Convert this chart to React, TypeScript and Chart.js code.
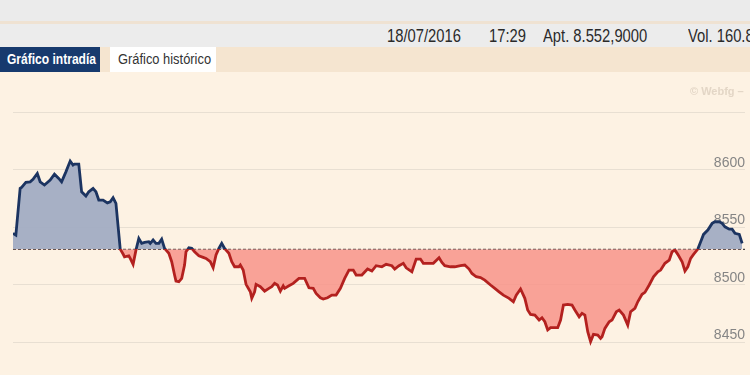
import React, { useEffect, useRef } from "react";
import { Chart, registerables } from "chart.js";

Chart.register(...registerables);

// minutes after 09:00
const minutes = [
  0, 2, 5, 6, 9, 12, 14, 17, 19, 22, 26, 29, 32, 34, 37, 40, 42, 43, 46, 48,
  51, 53, 56, 58, 60, 63, 66, 68, 70, 72, 75, 77, 78, 81, 82, 84, 86, 88, 90, 92,
  95, 96, 98, 100, 102, 104, 106, 109, 111, 113, 114, 116, 118, 120, 121, 123, 125, 127, 130, 133,
  135, 138, 140, 142, 144, 146, 148, 151, 153, 155, 158, 159, 161, 163, 166, 167, 169, 170, 173, 176,
  179, 181, 183, 185, 187, 189, 190, 193, 196, 200, 202, 204, 207, 210, 212, 215, 217, 220, 223, 226,
  229, 232, 235, 238, 240, 244, 248, 251, 254, 258, 261, 265, 267, 270, 273, 275, 279, 282, 285, 287,
  291, 294, 298, 300, 302, 306, 309, 313, 316, 319, 321, 324, 327, 330, 334, 337, 340, 343, 347, 350,
  352, 355, 358, 360, 362, 365, 368, 370, 372, 374, 376, 379, 381, 383, 385, 388, 391, 393, 396, 398,
  400, 402, 404, 406, 409, 411, 412, 414, 417, 419, 422, 424, 427, 430, 432, 435, 437, 440, 442, 445,
  448, 451, 453, 456, 459, 461, 463, 465, 468, 470, 472, 474, 476, 479, 481, 483, 486, 489, 491, 494,
  496, 498, 501, 503, 505, 508, 510,
];

const prices = [
  8544.7, 8543.2, 8583.9, 8584.8, 8589.1, 8589.6, 8591.7, 8596.9, 8589.6, 8586.8, 8591.1, 8596.3, 8592.6, 8589.6, 8598.3, 8607.7, 8604.2, 8605.0, 8605.0, 8580.9,
  8577.2, 8580.9, 8583.9, 8580.9, 8573.7, 8573.7, 8571.3, 8572.2, 8575.7, 8570.8, 8531.0, 8526.7, 8524.3, 8525.2, 8522.9, 8517.7, 8530.1, 8540.3, 8536.0, 8536.8,
  8537.4, 8536.0, 8538.9, 8536.0, 8536.0, 8539.7, 8531.6, 8527.3, 8520.0, 8508.4, 8503.1, 8502.5, 8505.5, 8517.1, 8528.7, 8532.1, 8531.6, 8528.7, 8525.2, 8523.8,
  8522.9, 8520.0, 8514.7, 8525.8, 8531.6, 8536.0, 8531.6, 8527.3, 8520.0, 8515.6, 8515.6, 8517.1, 8512.7, 8500.3, 8493.8, 8488.1, 8493.8, 8500.3, 8498.2, 8494.4,
  8496.8, 8498.2, 8501.1, 8499.7, 8494.4, 8499.0, 8496.8, 8499.0, 8501.1, 8505.5, 8505.5, 8505.5, 8497.3, 8496.8, 8492.4, 8488.6, 8487.5, 8488.6, 8490.9, 8490.9,
  8496.8, 8505.5, 8512.7, 8512.7, 8508.4, 8508.4, 8513.6, 8511.9, 8516.5, 8515.6, 8517.7, 8516.5, 8513.6, 8516.5, 8518.6, 8514.7, 8511.2, 8522.3, 8522.3, 8518.6,
  8518.6, 8518.6, 8523.4, 8519.4, 8516.5, 8515.6, 8515.6, 8516.5, 8517.1, 8513.6, 8509.8, 8506.9, 8506.2, 8504.0, 8499.7, 8496.8, 8493.8, 8490.9, 8488.1, 8485.1,
  8490.9, 8496.2, 8488.1, 8477.9, 8474.1, 8473.5, 8469.2, 8471.2, 8467.7, 8460.5, 8462.5, 8462.5, 8462.5, 8469.2, 8482.2, 8482.8, 8482.2, 8477.9, 8472.0, 8475.0,
  8473.5, 8459.0, 8450.3, 8456.7, 8456.1, 8453.2, 8454.6, 8461.9, 8467.7, 8469.2, 8476.4, 8477.9, 8473.5, 8464.8, 8476.4, 8479.4, 8485.1, 8491.6, 8493.3, 8499.7,
  8506.9, 8511.2, 8512.7, 8518.6, 8521.4, 8528.7, 8530.1, 8526.4, 8520.0, 8511.9, 8515.6, 8522.9, 8526.4, 8531.0, 8537.4, 8543.8, 8547.6, 8553.4, 8554.8, 8554.8,
  8553.4, 8550.4, 8548.4, 8548.4, 8544.7, 8543.8, 8536.0,
];

const previousClose = 8530.8;
const tickValues = [8450, 8500, 8550, 8600, 8650];
const tickLabels = ["8450", "8500", "8550", "8600", ""];
const xRange = [0, 512];
const yRange = [8421.3, 8650];

const headerItems = ["18/07/2016", "17:29", "Apt. 8.552,9000", "Vol. 160.8"];
const headerX = [387, 489, 543, 688];
const tabLabels = ["Gráfico intradía", "Gráfico histórico"];
const watermark = "© Webfg –";

const NAVY = "#1c3461";
const RED = "#b3211f";
const BLUE_FILL = "rgba(160,170,194,0.92)";
const RED_FILL = "rgba(248,148,138,0.85)";

export default function App() {
  const canvasRef = useRef<HTMLCanvasElement | null>(null);

  useEffect(() => {
    const canvas = canvasRef.current;
    if (!canvas) return;
    const lineColor = (ctx: any) => {
      const chart = ctx.chart;
      const { chartArea, scales } = chart;
      if (!chartArea || !scales.y) return NAVY;
      const yPix = scales.y.getPixelForValue(previousClose);
      const g = chart.ctx.createLinearGradient(0, chartArea.top, 0, chartArea.bottom);
      let f = (yPix - chartArea.top) / (chartArea.bottom - chartArea.top);
      f = Math.max(0, Math.min(1, f));
      g.addColorStop(0, NAVY);
      g.addColorStop(f, NAVY);
      g.addColorStop(f, RED);
      g.addColorStop(1, RED);
      return g;
    };
    const chart = new Chart(canvas, {
      type: "line",
      data: {
        datasets: [
          {
            data: minutes.map((m, i) => ({ x: m, y: prices[i] })),
            borderColor: lineColor,
            borderWidth: 2.8,
            pointRadius: 0,
            tension: 0,
            fill: { target: { value: previousClose }, above: BLUE_FILL, below: RED_FILL },
          },
          {
            data: [
              { x: xRange[0], y: previousClose },
              { x: xRange[1], y: previousClose },
            ],
            borderColor: "#1a1a1a",
            borderWidth: 1,
            borderDash: [3, 2],
            pointRadius: 0,
            fill: false,
          },
        ],
      },
      options: {
        responsive: false,
        animation: false,
        layout: { padding: { left: 13, right: 5, top: 40.5, bottom: 0 } },
        plugins: { legend: { display: false }, tooltip: { enabled: false } },
        scales: {
          x: { type: "linear", display: false, min: xRange[0], max: xRange[1] },
          y: {
            position: "right",
            min: yRange[0],
            max: yRange[1],
            afterBuildTicks: (axis: any) => {
              axis.ticks = tickValues.map((v) => ({ value: v }));
            },
            afterFit: (axis: any) => {
              axis.paddingTop = 0;
              axis.paddingBottom = 0;
            },
            border: { display: false },
            grid: { color: "#e8dfd2", lineWidth: 1, drawTicks: false },
            ticks: {
              mirror: true,
              padding: 0,
              labelOffset: -7,
              color: "#858585",
              font: { family: "Liberation Sans", size: 14 },
              callback: (v: any) => {
                const i = tickValues.indexOf(Number(v));
                return i >= 0 ? tickLabels[i] : "";
              },
            },
          },
        },
      },
    });
    return () => chart.destroy();
  }, []);

  const font = "'Liberation Sans', Arial, sans-serif";
  return (
    <div
      style={{
        position: "absolute",
        left: 0,
        top: 0,
        width: 750,
        height: 375,
        overflow: "hidden",
        background: "#fdf2e3",
        fontFamily: font,
      }}
    >
      <div style={{ position: "absolute", left: 0, top: 0, width: 750, height: 21, background: "#ebebeb" }} />
      <div style={{ position: "absolute", left: 0, top: 21, width: 750, height: 3, background: "#efe2d2" }} />
      <div style={{ position: "absolute", left: 0, top: 24, width: 750, height: 23, background: "#ececec" }} />
      {headerItems.map((t, i) => (
        <span
          key={t}
          style={{
            position: "absolute",
            left: headerX[i],
            top: 26,
            fontSize: 18,
            lineHeight: "20px",
            color: "#2a2a2a",
            whiteSpace: "nowrap",
            transform: "scaleX(0.82)",
            transformOrigin: "left center",
          }}
        >
          {t}
        </span>
      ))}
      <div style={{ position: "absolute", left: 0, top: 47, width: 750, height: 25, background: "#f5e5d0" }} />
      <div
        style={{
          position: "absolute",
          left: 0,
          top: 47,
          width: 100,
          height: 25,
          background: "#173a6e",
        }}
      />
      <span
        style={{
          position: "absolute",
          left: 7,
          top: 50,
          fontSize: 14,
          lineHeight: "18px",
          fontWeight: "bold",
          color: "#ffffff",
          whiteSpace: "nowrap",
          transform: "scaleX(0.86)",
          transformOrigin: "left center",
        }}
      >
        {tabLabels[0]}
      </span>
      <div
        style={{
          position: "absolute",
          left: 110,
          top: 47,
          width: 106,
          height: 25,
          background: "#ffffff",
        }}
      />
      <span
        style={{
          position: "absolute",
          left: 118,
          top: 50,
          fontSize: 14,
          lineHeight: "18px",
          color: "#333333",
          whiteSpace: "nowrap",
          transform: "scaleX(0.92)",
          transformOrigin: "left center",
        }}
      >
        {tabLabels[1]}
      </span>
      <div style={{ position: "absolute", left: 0, top: 72, width: 750, height: 303 }}>
        <canvas ref={canvasRef} width={750} height={303} style={{ display: "block" }} />
      </div>
      <span
        style={{
          position: "absolute",
          left: 690,
          top: 85,
          fontSize: 11,
          lineHeight: "13px",
          fontWeight: "bold",
          color: "#e3d6c6",
          whiteSpace: "nowrap",
        }}
      >
        {watermark}
      </span>
    </div>
  );
}
